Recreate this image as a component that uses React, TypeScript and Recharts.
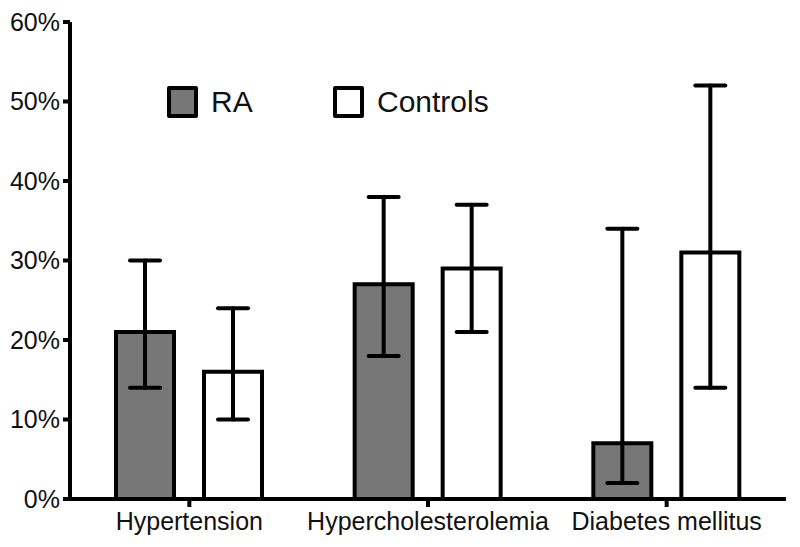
import { BarChart, Bar, XAxis, YAxis, ErrorBar, Legend } from 'recharts';

// values (percent)
const categories = ['Hypertension', 'Hypercholesterolemia', 'Diabetes mellitus'];
const raValues = [21, 27, 7];
const raLow = [14, 18, 2];
const raHigh = [30, 38, 34];
const controlValues = [16, 29, 31];
const controlLow = [10, 21, 14];
const controlHigh = [24, 37, 52];
const yTicks = [0, 10, 20, 30, 40, 50, 60];
const seriesNames = ['RA', 'Controls'];

const FONT = "Arial, 'Liberation Sans', Helvetica, sans-serif";

const data = categories.map((name, i) => ({
  name,
  ra: raValues[i],
  raErr: [raValues[i] - raLow[i], raHigh[i] - raValues[i]],
  controls: controlValues[i],
  controlsErr: [controlValues[i] - controlLow[i], controlHigh[i] - controlValues[i]],
}));

function LegendContent(props: any) {
  const payload = [...(props.payload || [])].sort(
    (a: any, b: any) => seriesNames.indexOf(a.value) - seriesNames.indexOf(b.value)
  );
  return (
    <div style={{ display: 'flex', alignItems: 'center', fontFamily: FONT }}>
      {payload.map((entry: any) => (
        <div key={entry.value} style={{ display: 'flex', alignItems: 'center', width: 166 }}>
          <span
            style={{
              display: 'inline-block',
              width: 31,
              height: 32,
              boxSizing: 'border-box',
              border: '4px solid #000',
              borderRadius: 2,
              background: entry.payload?.fill ?? entry.color,
              marginRight: 13,
            }}
          />
          <span style={{ fontSize: 30, color: '#111' }}>{entry.value}</span>
        </div>
      ))}
    </div>
  );
}

export default function App() {
  return (
    <div style={{ position: 'absolute', left: 0, top: 0, background: '#fff' }}>
      <BarChart
        width={800}
        height={547}
        data={data}
        margin={{ top: 22, right: 14, bottom: 0, left: 0 }}
        barSize={58}
        barGap={30}
      >
        <XAxis
          dataKey="name"
          height={48}
          axisLine={{ stroke: '#000', strokeWidth: 4 }}
          tickLine={{ stroke: '#000', strokeWidth: 4 }}
          tickSize={8}
          tickMargin={5}
          tick={{ fill: '#111', fontSize: 25, fontFamily: FONT }}
          interval={0}
        />
        <YAxis
          width={70}
          domain={[0, 60]}
          ticks={yTicks}
          tickFormatter={(v: number) => `${v}%`}
          axisLine={{ stroke: '#000', strokeWidth: 4 }}
          tickLine={{ stroke: '#000', strokeWidth: 4 }}
          tickSize={7}
          tickMargin={3}
          tick={{ fill: '#111', fontSize: 25, fontFamily: FONT }}
          allowDataOverflow
        />
        <Legend
          layout="horizontal"
          verticalAlign="middle"
          content={<LegendContent />}
          wrapperStyle={{ position: 'absolute', left: 167, top: 85, width: 400 }}
        />
        <Bar dataKey="ra" name="RA" fill="#777777" stroke="#000" strokeWidth={4} isAnimationActive={false}>
          <ErrorBar
            dataKey="raErr"
            width={15}
            stroke="#000"
            strokeWidth={4}
            strokeLinecap="round"
            isAnimationActive={false}
          />
        </Bar>
        <Bar dataKey="controls" name="Controls" fill="#ffffff" stroke="#000" strokeWidth={4} isAnimationActive={false}>
          <ErrorBar
            dataKey="controlsErr"
            width={15}
            stroke="#000"
            strokeWidth={4}
            strokeLinecap="round"
            isAnimationActive={false}
          />
        </Bar>
      </BarChart>
    </div>
  );
}
